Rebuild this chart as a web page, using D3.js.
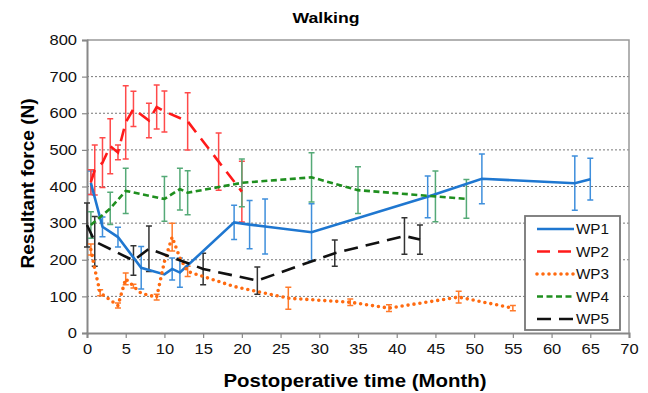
<!DOCTYPE html>
<html>
<head>
<meta charset="utf-8">
<script src="https://cdn.jsdelivr.net/npm/d3@7"></script>
<style>
  html, body { margin: 0; padding: 0; background: #fff; }
  svg { display: block; font-family: "Liberation Sans", Arial, sans-serif; }
</style>
</head>
<body>
<svg id="chart"></svg>
<script>
// values (mean force in N, sd as half the error bar)
const seriesNames = ['WP1', 'WP2', 'WP3', 'WP4', 'WP5'];

const wp1Months = [0.5, 2, 4, 7, 10, 11, 12, 19, 21, 23, 29, 44, 51, 63, 65];
const wp1Force  = [410, 290, 262, 178, 160, 175, 165, 302, 296, 291, 275, 372, 421, 409, 420];
const wp1Sd     = [32, 27, 27, 58, 0, 30, 40, 47, 66, 75, 78, 57, 68, 74, 57];

const wp2Months = [0.5, 1, 2, 3, 4, 5, 6, 8, 9, 10, 13, 17, 20];
const wp2Force  = [412, 445, 465, 510, 493, 575, 612, 580, 617, 605, 578, 468, 386];
const wp2Sd     = [34, 68, 68, 75, 20, 100, 48, 47, 60, 56, 78, 78, 83];

const wp3Months = [0.5, 1, 1.7, 4, 5, 6, 7, 9, 10, 11, 12, 13, 19, 26, 34, 39, 48, 55];
const wp3Force  = [228, 175, 110, 75, 148, 128, 108, 98, 195, 262, 205, 168, 127, 95, 84, 68, 98, 68];
const wp3Sd     = [15, 0, 8, 7, 16, 5, 0, 8, 0, 38, 0, 14, 0, 30, 9, 9, 16, 7];

const wp4Months = [0.5, 3, 5, 10, 12, 13, 20, 29, 35, 45, 49];
const wp4Force  = [295, 340, 388, 366, 393, 383, 410, 425, 390, 373, 366];
const wp4Sd     = [36, 44, 62, 61, 57, 60, 65, 67, 64, 69, 53];

const wp5Months = [0, 1, 6, 8, 15, 22, 32, 41, 43];
const wp5Force  = [295, 250, 198, 230, 175, 143, 218, 265, 255];
const wp5Sd     = [60, 68, 40, 62, 43, 37, 36, 50, 40];

const xTicks = d3.range(0, 71, 5);
const yTicks = d3.range(0, 801, 100);

const styles = {
  WP1: { line: '#1f77d0', bar: '#3f8fdc', dash: null, width: 2.6 },
  WP2: { line: '#ff1a1a', bar: '#ff4a4a', dash: '13,8', width: 2.6 },
  WP3: { line: '#ff6a10', bar: '#ff7a2a', dash: '0,6', width: 3.6, cap: 'round' },
  WP4: { line: '#1f8f1f', bar: '#55aa77', dash: '6,3.5', width: 2.6 },
  WP5: { line: '#111111', bar: '#333333', dash: '14,8', width: 2.6 }
};

// the reference text is a bit wider than the font draws it
const stretch = 1.14;

const zip = (m, f, s) => m.map((d, i) => ({ month: d, force: f[i], sd: s[i] }));
const series = [
  { name: 'WP1', points: zip(wp1Months, wp1Force, wp1Sd) },
  { name: 'WP2', points: zip(wp2Months, wp2Force, wp2Sd) },
  { name: 'WP3', points: zip(wp3Months, wp3Force, wp3Sd) },
  { name: 'WP4', points: zip(wp4Months, wp4Force, wp4Sd) },
  { name: 'WP5', points: zip(wp5Months, wp5Force, wp5Sd) }
];

const width = 648, height = 393;
const margin = { top: 40, right: 19, bottom: 60, left: 87 };
const innerW = width - margin.left - margin.right;
const innerH = height - margin.top - margin.bottom;

const svg = d3.select('#chart').attr('width', width).attr('height', height);

const x = d3.scaleLinear().domain([0, 70]).range([0, innerW]);
const y = d3.scaleLinear().domain([0, 800]).range([innerH, 0]);

const g = svg.append('g').attr('transform', `translate(${margin.left},${margin.top})`);

// gridlines
g.selectAll('.grid')
  .data(yTicks.filter(d => d > 0 && d < 800))
  .enter()
  .append('line')
  .attr('x1', 0).attr('x2', innerW)
  .attr('y1', d => y(d)).attr('y2', d => y(d))
  .attr('stroke', '#777')
  .attr('stroke-width', 1)
  .attr('stroke-dasharray', '2,2');

// plot frame (top and right)
g.append('path')
  .attr('d', `M0,0H${innerW}V${innerH}`)
  .attr('fill', 'none')
  .attr('stroke', '#999')
  .attr('stroke-width', 1.5);

// axes
const yAxis = g.append('g')
  .call(d3.axisLeft(y).tickValues(yTicks).tickSize(5).tickPadding(5));
const xAxis = g.append('g')
  .attr('transform', `translate(0,${innerH})`)
  .call(d3.axisBottom(x).tickValues(xTicks).tickSize(5).tickPadding(6));

[yAxis, xAxis].forEach(a => {
  a.select('.domain').attr('stroke', '#888').attr('stroke-width', 2);
  a.selectAll('.tick line').attr('stroke', '#888').attr('stroke-width', 1.2);
  a.selectAll('.tick text')
    .attr('fill', '#111')
    .style('font-size', '14.5px')
    .style('font-family', '"Liberation Sans", Arial, sans-serif');
});
yAxis.selectAll('.tick text')
  .attr('x', -10 / stretch)
  .attr('transform', `scale(${stretch},1)`);
xAxis.selectAll('.tick text')
  .attr('transform', `scale(${stretch},1)`);

// error bars
series.forEach(s => {
  const st = styles[s.name];
  const bars = g.append('g').attr('stroke', st.bar).attr('stroke-width', 1.5).attr('fill', 'none');
  s.points.filter(p => p.sd > 0).forEach(p => {
    const cx = x(p.month);
    const y1 = y(p.force + p.sd);
    const y2 = y(p.force - p.sd);
    bars.append('path')
      .attr('d', `M${cx},${y1}V${y2}M${cx - 3},${y1}H${cx + 3}M${cx - 3},${y2}H${cx + 3}`);
  });
});

// lines
const line = d3.line()
  .x(d => x(d.month))
  .y(d => y(d.force));

series.forEach(s => {
  const st = styles[s.name];
  g.append('path')
    .datum(s.points)
    .attr('d', line)
    .attr('fill', 'none')
    .attr('stroke', st.line)
    .attr('stroke-width', st.width)
    .attr('stroke-linecap', st.cap || 'butt')
    .attr('stroke-dasharray', st.dash);
});

// legend
const legend = g.append('g').attr('transform', `translate(${438},${176})`);
legend.append('rect')
  .attr('width', 95).attr('height', 114)
  .attr('fill', '#fff')
  .attr('stroke', '#777')
  .attr('stroke-width', 1.8);

seriesNames.forEach((name, i) => {
  const st = styles[name];
  const ly = 13 + i * 22.5;
  legend.append('line')
    .attr('x1', 12).attr('x2', 49)
    .attr('y1', ly).attr('y2', ly)
    .attr('stroke', st.line)
    .attr('stroke-width', st.width)
    .attr('stroke-linecap', st.cap || 'butt')
    .attr('stroke-dasharray', st.dash);
  legend.append('text')
    .attr('x', 51).attr('y', ly + 5)
    .attr('textLength', 33)
    .attr('lengthAdjust', 'spacingAndGlyphs')
    .style('font-size', '14.5px')
    .attr('fill', '#111')
    .text(name);
});

// titles
svg.append('text')
  .attr('x', 326).attr('y', 23)
  .attr('text-anchor', 'middle')
  .attr('textLength', 67)
  .attr('lengthAdjust', 'spacingAndGlyphs')
  .style('font-size', '15.5px')
  .style('font-weight', 'bold')
  .text('Walking');

svg.append('text')
  .attr('x', 355).attr('y', 387)
  .attr('text-anchor', 'middle')
  .attr('textLength', 263)
  .attr('lengthAdjust', 'spacingAndGlyphs')
  .style('font-size', '17.5px')
  .style('font-weight', 'bold')
  .text('Postoperative time (Month)');

svg.append('text')
  .attr('transform', `translate(34,${margin.top + innerH / 2 - 3}) rotate(-90)`)
  .attr('text-anchor', 'middle')
  .attr('textLength', 170)
  .attr('lengthAdjust', 'spacingAndGlyphs')
  .style('font-size', '17.5px')
  .style('font-weight', 'bold')
  .text('Resultant force (N)');
</script>
</body>
</html>
